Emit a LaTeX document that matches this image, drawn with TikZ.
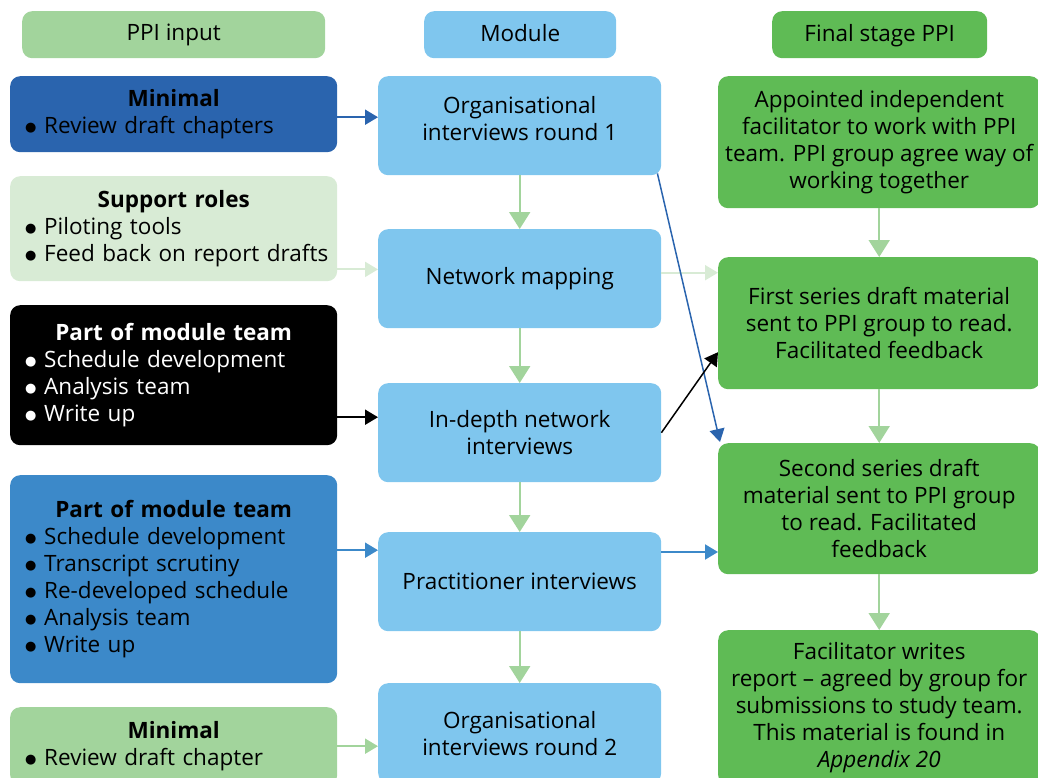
\documentclass[tikz,border=0pt]{standalone}
\usepackage{fontspec}
\setmainfont{Open Sans}
\newfontfamily\dvsans{DejaVu Sans}
\usetikzlibrary{arrows.meta,calc}
\definecolor{hdgreen}{HTML}{A2D49C}
\definecolor{palegreen}{HTML}{D8EBD5}
\definecolor{dblue}{HTML}{2A64AE}
\definecolor{mblue}{HTML}{3C89C9}
\definecolor{modblue}{HTML}{7FC6EE}
\definecolor{fgreen}{HTML}{5FBB55}
\newcommand{\ttl}[1]{{\centering\bfseries #1\par}}
\newcommand{\bul}{\makebox[28pt][l]{\hspace{9pt}\raisebox{2.5pt}{\dvsans\fontsize{13}{13}\selectfont ●}}}
\begin{document}
\begin{tikzpicture}[x=1pt,y=-1pt,
  box/.style={rounded corners=10pt, inner sep=0pt, anchor=north west, font=\fontsize{22.5}{27}\selectfont},
  lbox/.style={box, minimum width=327pt, text width=315pt, align=left},
  mbox/.style={box, fill=modblue, minimum width=283pt, minimum height=99pt, align=center},
  rbox/.style={box, fill=fgreen, minimum width=322pt, align=center},
  hdr/.style={box, minimum height=47pt, text depth=4pt},
  garrow/.style={draw=hdgreen, line width=2pt, -{Triangle[length=17pt,width=21pt]}},
  harrow/.style={line width=2pt, -{Triangle[length=13pt,width=15pt]}},
]
\useasboundingbox (0,0) rectangle (1038,778);
% headers
\node[hdr, fill=hdgreen, minimum width=303pt] (h1) at (22,11) {PPI input};
\node[hdr, fill=modblue, minimum width=192pt] (h2) at (424,11) {Module};
\node[hdr, fill=fgreen, minimum width=215pt] (h3) at (772,11) {Final stage PPI};
% left column
\node[lbox, fill=dblue, minimum height=76pt] (l1) at (10,76)
  {\ttl{Minimal}\bul Review draft chapters};
\node[lbox, fill=palegreen, minimum height=105pt] (l2) at (10,176)
  {\ttl{Support roles}\bul Piloting tools\\\bul Feed back on report drafts};
\node[lbox, fill=black, text=white, minimum height=140pt] (l3) at (10,305)
  {\ttl{Part of module team}\bul Schedule development\\\bul Analysis team\\\bul Write up};
\node[lbox, fill=mblue, minimum height=208pt] (l4) at (10,475)
  {\ttl{Part of module team}\bul Schedule development\\\bul Transcript scrutiny\\\bul Re-developed schedule\\\bul Analysis team\\\bul Write up};
\node[lbox, fill=hdgreen, minimum height=78pt] (l5) at (10,707)
  {\ttl{Minimal}\bul Review draft chapter};
% middle column
\node[mbox] (m1) at (378,76) {Organisational\\interviews round 1\\[-13pt]};
\node[mbox] (m2) at (378,229) {Network mapping};
\node[mbox] (m3) at (378,383) {In-depth network\\interviews};
\node[mbox] (m4) at (378,532) {Practitioner interviews};
\node[mbox, minimum height=100pt] (m5) at (378,683) {Organisational\\interviews round 2};
% right column
\node[rbox, minimum height=132pt] (r1) at (718,76)
  {Appointed independent\\facilitator to work with PPI\\team. PPI group agree way of\\working together};
\node[rbox, minimum height=132pt] (r2) at (718,257)
  {First series draft material\\sent to PPI group to read.\\Facilitated feedback};
\node[rbox, minimum height=131pt] (r3) at (718,443)
  {Second series draft\\material sent to PPI group\\to read. Facilitated\\feedback};
\node[rbox, minimum height=155pt] (r4) at (718,630)
  {Facilitator writes\\report -- agreed by group for\\submissions to study team.\\This material is found in\\\textit{Appendix 20}};
% vertical arrows
\draw[garrow] (m1.south) -- (m2.north);
\draw[garrow] (m2.south) -- (m3.north);
\draw[garrow] (m3.south) -- (m4.north);
\draw[garrow] (m4.south) -- (m5.north);
\draw[garrow] (r1.south) -- (r2.north);
\draw[garrow] (r2.south) -- (r3.north);
\draw[garrow] (r3.south) -- (r4.north);
% horizontal arrows
\draw[harrow, draw=dblue] ($(l1.east)+(0,3)$) -- ($(m1.west|-l1.east)+(0,3)$);
\draw[harrow, draw=palegreen] ($(l2.south east)+(0,-12)$) -- ($(m2.west|-l2.south east)+(0,-12)$);
\draw[harrow, draw=black] ($(l3.east)+(0,42)$) -- ($(m3.west|-l3.east)+(0,42)$);
\draw[harrow, draw=mblue] ($(l4.east)+(0,-29)$) -- ($(m4.west|-l4.east)+(0,-29)$);
\draw[harrow, draw=hdgreen] (l5.east) -- (m5.west|-l5.east);
\draw[harrow, draw=palegreen] ($(m2.east)+(0,-6)$) -- ($(r2.west|-m2.east)+(0,-6)$);
\draw[harrow, draw=mblue] ($(m4.north east)+(0,20)$) -- ($(r3.west|-m4.north east)+(0,20)$);
\draw[harrow, line width=1.5pt, draw=dblue] ($(m1.south east)+(-4,-2)$) -- ($(r3.north west)+(2,-1)$);
\draw[harrow, line width=1.5pt, draw=black] (m3.east) -- ($(r2.west)+(0,29)$);
\end{tikzpicture}
\end{document}
